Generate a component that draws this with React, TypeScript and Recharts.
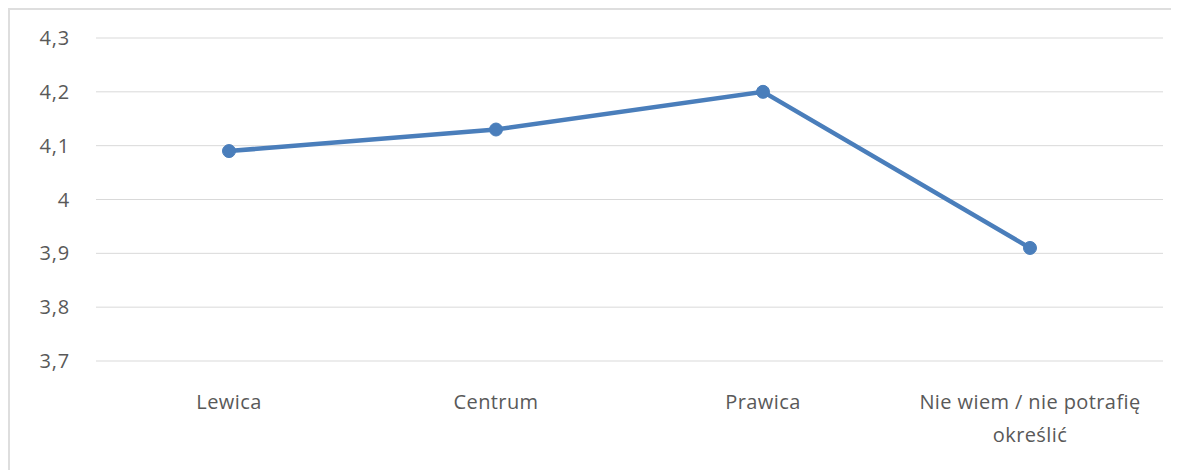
import { CartesianGrid, Line, LineChart, XAxis, YAxis } from "recharts";

const categories = ["Lewica", "Centrum", "Prawica", "Nie wiem / nie potrafię określić"];
const means = [4.09, 4.13, 4.2, 3.91];
const yTicks = [3.7, 3.8, 3.9, 4.0, 4.1, 4.2, 4.3];

const data = categories.map((name, i) => ({ name, value: means[i] }));

const FONT = "'Open Sans', sans-serif";
const TEXT = "#595959";

function wrap(label: string, max: number) {
  const lines: string[] = [];
  let cur = "";
  for (const w of label.split(" ")) {
    const next = cur ? cur + " " + w : w;
    if (next.length > max && cur) {
      lines.push(cur);
      cur = w;
    } else cur = next;
  }
  if (cur) lines.push(cur);
  return lines;
}

function CategoryTick({ x, y, payload }: any) {
  const lines = wrap(String(payload.value), 24);
  return (
    <text x={x} y={y} textAnchor="middle" fill={TEXT} fontFamily={FONT} fontSize={20} letterSpacing={0.4}>
      {lines.map((l, i) => (
        <tspan key={i} x={x} dy={i === 0 ? 40 : 33}>
          {l}
        </tspan>
      ))}
    </text>
  );
}

export default function App() {
  return (
    <div
      style={{
        width: 1169,
        height: 460,
        borderLeft: "2px solid #dedede",
        borderTop: "2px solid #dedede",
        background: "#fff",
      }}
    >
      <LineChart width={1169} height={460} data={data} margin={{ top: 28, right: 16, left: 10, bottom: 49 }}>
        <CartesianGrid stroke="#d9d9d9" vertical={false} />
        <XAxis
          dataKey="name"
          axisLine={false}
          tickLine={false}
          height={60}
          interval={0}
          padding={{ left: 133, right: 133 }}
          tick={<CategoryTick />}
        />
        <YAxis
          domain={[3.7, 4.3]}
          ticks={yTicks}
          width={76}
          axisLine={false}
          tickLine={false}
          tickSize={0}
          tickMargin={26}
          tickFormatter={(v: number) => (Math.round(v * 10) / 10).toString().replace(".", ",")}
          tick={{ fill: TEXT, fontSize: 20, fontFamily: FONT, letterSpacing: 0.8 }}
        />
        <Line
          dataKey="value"
          stroke="#4a7ebb"
          strokeWidth={4.5}
          dot={{ r: 6.5, fill: "#4a7ebb", stroke: "#4a7ebb", strokeWidth: 1 }}
          isAnimationActive={false}
        />
      </LineChart>
    </div>
  );
}
